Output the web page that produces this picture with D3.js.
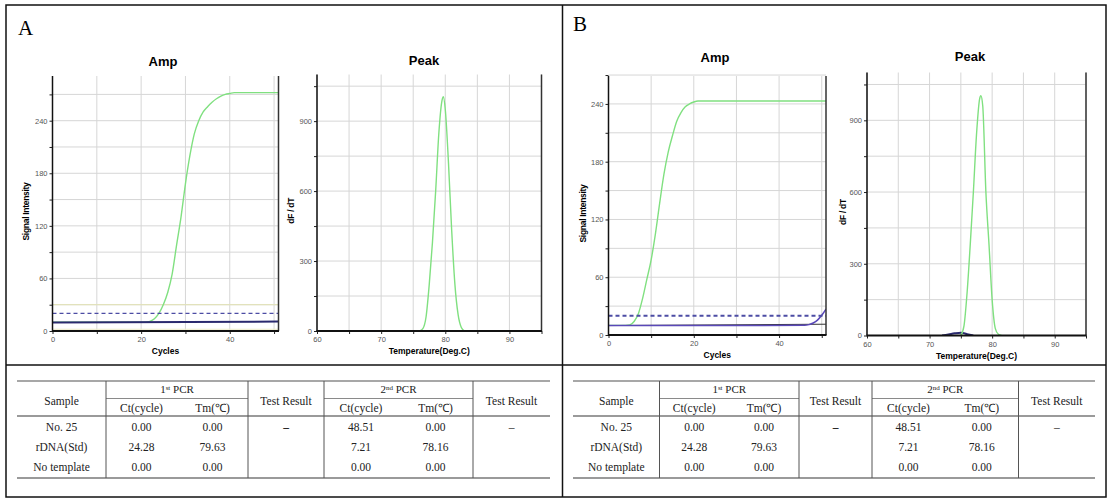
<!DOCTYPE html>
<html><head><meta charset="utf-8">
<script src="https://cdn.jsdelivr.net/npm/d3@7/dist/d3.min.js"></script>
<style>body{margin:0;background:#fff;} svg{display:block;}</style>
</head><body><svg id="c" width="1112" height="500"></svg>
<script>
// ---------------- DATA ----------------
const cycles = [0,1,2,3,4,5,6,7,8,9,10,11,12,13,14,15,16,17,18,19,20,21,22,23,24,25,26,27,28,29,30,31,32,33,34,35,36,37,38,39,40,41,42,43,44,45,46,47,48,49,50,51];
const ampA_green = [10,10,10,10,10,10,10,10,10,10, 10,10,10,10,10,10,10,10,10,10, 10,10,11,14,20,30,44,65,98,130, 168,200,225,240,250,256,261,265,268,270, 271,272,272,272,272,272,272,272,272,272, 272,272];
const ampA_baseCycles = [0,51];
const ampA_base = [9.6,10.8];
const ampA_threshold = 20;
const ampA_upper = 30;
const ampA_ntc = 2;

const ampB_green = [10,10,10,10,10,10.5,14,22,38,58, 78,105,137,167,190,207,222,231,237,240, 242,243,243,243,243,243,243,243,243,243, 243,243,243,243,243,243,243,243,243,243, 243,243,243,243,243,243,243,243,243,243, 243,243];
const ampB_purpleCycles = [0,46,47,48,49,50,51];
const ampB_purple = [9.8,10,10.8,12.5,15.5,20.5,27];
const ampB_blackCycles = [0,51];
const ampB_black = [9.8,11.2];
const ampB_threshold = 20;

const peakA_temp = [76,76.5,77,77.5,78,78.5,79,79.5,79.7,80,80.5,81,81.5,82,82.5,83];
const peakA_green = [0,10,60,200,380,600,850,990,1005,950,720,430,200,70,15,0];
const peakB_temp = [75,75.5,76,76.5,77,77.5,78,78.2,78.5,79,79.5,80,80.5,81,81.5];
const peakB_green = [0,40,180,380,600,840,990,1003,960,600,380,150,30,5,0];
const peakB_blueTemp = [72,73,74,75,75.5,76,77];
const peakB_blue = [0,4,9,12,10,5,0];

const ampXTicks = [0,10,20,30,40,50];
const ampXLabels = [0,20,40];
const ampYTicks = [0,30,60,90,120,150,180,210,240,270];
const ampYLabels = [0,60,120,180,240];
const peakXTicks = [60,65,70,75,80,85,90,95];
const peakXLabels = [60,70,80,90];
const peakYTicks = [0,150,300,450,600,750,900,1050];
const peakYLabels = [0,300,600,900];

const samples = ["No. 25","rDNA(Std)","No template"];
const firstCt = ["0.00","24.28","0.00"];
const firstTm = ["0.00","79.63","0.00"];
const firstResult = ["\u2013","",""];
const secondCt = ["48.51","7.21","0.00"];
const secondTm = ["0.00","78.16","0.00"];
const secondResult = ["\u2013","",""];

// ---------------- DRAW ----------------
const svg = d3.select("#c");
const SANS = "'Liberation Sans', Arial, sans-serif";
const SERIF = "'Liberation Serif', 'Times New Roman', serif";
const GREEN = "#80e080", NAVY = "#2a2a6e", DASH = "#4c4ca4";

function chart(cfg){
  const g = svg.append("g");
  const x = d3.scaleLinear().domain(cfg.xd).range([cfg.x0, cfg.x1]);
  const y = d3.scaleLinear().domain(cfg.yd).range([cfg.y1, cfg.y0]);
  // grid
  g.selectAll(".vg").data(cfg.xt).join("line")
    .attr("x1", d=>x(d)).attr("x2", d=>x(d)).attr("y1", cfg.y0).attr("y2", cfg.y1)
    .attr("stroke", "#d6d6d6").attr("stroke-width", 1);
  g.selectAll(".hg").data(cfg.yt.filter(v=>v>0)).join("line")
    .attr("x1", cfg.x0).attr("x2", cfg.x1).attr("y1", d=>y(d)).attr("y2", d=>y(d))
    .attr("stroke", "#d6d6d6").attr("stroke-width", 1);
  // series
  const clip = "clip" + Math.round(cfg.x0);
  svg.append("clipPath").attr("id", clip).append("rect")
    .attr("x", cfg.x0).attr("y", cfg.y0 - 2).attr("width", cfg.x1 - cfg.x0).attr("height", cfg.y1 - cfg.y0 + 2);
  const sg = g.append("g").attr("clip-path", `url(#${clip})`);
  cfg.series.forEach(s => {
    const pts = s.xs.map((v,i)=>[v, s.ys[i]]);
    const line = d3.line().x(d=>x(d[0])).y(d=>y(d[1])).curve(s.curve || d3.curveMonotoneX);
    sg.append("path").attr("d", line(pts)).attr("fill", "none")
      .attr("stroke", s.color).attr("stroke-width", s.w || 1.3)
      .attr("stroke-dasharray", s.dash || null);
  });
  // axes
  const ya = d3.axisLeft(y).tickValues(cfg.yt).tickSize(3).tickPadding(2)
    .tickFormat(d => cfg.yl.includes(d) ? d : "");
  const xa = d3.axisBottom(x).tickValues(cfg.xt).tickSize(3).tickPadding(3)
    .tickFormat(d => cfg.xl.includes(d) ? d : "");
  const yg = g.append("g").attr("transform", `translate(${cfg.x0},0)`).call(ya);
  const xg = g.append("g").attr("transform", `translate(0,${cfg.y1})`).call(xa);
  [yg, xg].forEach(a => {
    a.select(".domain").remove();
    a.selectAll("line").attr("stroke", "#222");
    a.selectAll("text").attr("fill", "#555").style("font-family", SANS).style("font-size", "7.5px");
  });
  // frame lines
  g.append("line").attr("x1", cfg.x0).attr("x2", cfg.x0).attr("y1", cfg.y0).attr("y2", cfg.y1)
    .attr("stroke", "#111").attr("stroke-width", 1.5);
  g.append("line").attr("x1", cfg.x1).attr("x2", cfg.x1).attr("y1", cfg.y0).attr("y2", cfg.y1)
    .attr("stroke", "#333").attr("stroke-width", 1.5);
  g.append("line").attr("x1", cfg.x0 - 0.5).attr("x2", cfg.x1 + 0.5).attr("y1", cfg.y1).attr("y2", cfg.y1)
    .attr("stroke", "#111").attr("stroke-width", 2);
  // titles
  g.append("text").attr("x", cfg.tx).attr("y", cfg.ty).attr("text-anchor", "middle")
    .style("font-family", SANS).style("font-weight", "bold").style("font-size", "13px").text(cfg.title);
  g.append("text").attr("x", (cfg.x0 + cfg.x1)/2 + (cfg.xlOff||0)).attr("y", cfg.y1 + 23).attr("text-anchor", "middle")
    .style("font-family", SANS).style("font-weight", "bold").style("font-size", "8.5px").text(cfg.xlabel);
  g.append("text").attr("transform", `translate(${cfg.ylx},${(cfg.y0 + cfg.y1)/2 + 8}) rotate(-90)`)
    .attr("text-anchor", "middle")
    .style("font-family", SANS).style("font-weight", "bold").style("font-size", "8.5px")
    .style("letter-spacing", "-0.3px").text(cfg.ylabel);
}

function ampCfg(o){
  return Object.assign({xd:[0,51], xt:ampXTicks, xl:ampXLabels, yt:ampYTicks, yl:ampYLabels,
    title:"Amp", xlabel:"Cycles", ylabel:"Signal Intensity"}, o);
}
function peakCfg(o){
  return Object.assign({xd:[60,95], yd:[0,1100], xt:peakXTicks, xl:peakXLabels, yt:peakYTicks, yl:peakYLabels,
    title:"Peak", xlabel:"Temperature(Deg.C)", ylabel:"dF / dT"}, o);
}

chart(ampCfg({x0:52.5, x1:278.5, y0:76, y1:331, yd:[0,291], tx:163, ty:66, ylx:29,
  series:[
    {xs:[0,51], ys:[ampA_upper, ampA_upper], color:"#e4e4b4", w:1, curve:d3.curveLinear},
    {xs:[0,51], ys:[ampA_ntc, ampA_ntc], color:"#ecebc8", w:1, curve:d3.curveLinear},
    {xs:cycles, ys:ampA_green, color:GREEN, w:1.4},
    {xs:ampA_baseCycles, ys:ampA_base, color:NAVY, w:2, curve:d3.curveLinear},
    {xs:[0,51], ys:[ampA_threshold, ampA_threshold], color:DASH, w:1.2, dash:"4,3", curve:d3.curveLinear}
  ]}));

chart(peakCfg({x0:317, x1:541.5, y0:74.5, y1:331, tx:424, ty:65, ylx:294,
  series:[
    {xs:peakA_temp, ys:peakA_green, color:GREEN, w:1.4}
  ]}));

chart(ampCfg({x0:608.5, x1:826, y0:76, y1:335, yd:[0,269], tx:715, ty:62, ylx:586,
  series:[
    {xs:cycles, ys:ampB_green, color:GREEN, w:1.4},
    {xs:ampB_blackCycles, ys:ampB_black, color:"#333", w:1, curve:d3.curveLinear},
    {xs:ampB_purpleCycles, ys:ampB_purple, color:"#5a48b8", w:1.5},
    {xs:[0,51], ys:[ampB_threshold, ampB_threshold], color:DASH, w:1.8, dash:"4,3", curve:d3.curveLinear}
  ]}));

chart(peakCfg({x0:867, x1:1086, y0:72.5, y1:335.5, tx:970, ty:61, ylx:846,
  series:[
    {xs:peakB_blueTemp, ys:peakB_blue, color:NAVY, w:2},
    {xs:peakB_temp, ys:peakB_green, color:GREEN, w:1.4}
  ]}));

// panel letters
svg.append("text").attr("x", 18).attr("y", 35).style("font-family", SERIF).style("font-size", "21px").text("A");
svg.append("text").attr("x", 573).attr("y", 31).style("font-family", SERIF).style("font-size", "21px").text("B");

// frame
svg.append("rect").attr("x", 6).attr("y", 5).attr("width", 1100).attr("height", 492)
  .attr("fill", "none").attr("stroke", "#111").attr("stroke-width", 1.5);
svg.append("line").attr("x1", 562.5).attr("x2", 562.5).attr("y1", 5).attr("y2", 497).attr("stroke", "#111").attr("stroke-width", 1.5);
svg.append("line").attr("x1", 6).attr("x2", 1106).attr("y1", 365).attr("y2", 365).attr("stroke", "#111").attr("stroke-width", 1.5);

// tables
function table(cols){
  const g = svg.append("g");
  const T = 381, S = 398.5, H = 416, B = 478;
  const rowY = [431, 451, 471];
  const L = cols[0], R = cols[cols.length-1];
  const hl = (x1,x2,yy,w,c) => g.append("line").attr("x1",x1).attr("x2",x2).attr("y1",yy).attr("y2",yy).attr("stroke",c).attr("stroke-width",w);
  hl(L,R,T,1.5,"#8a8a8a");
  hl(cols[1],cols[3],S,1,"#8a8a8a");
  hl(cols[4],cols[6],S,1,"#8a8a8a");
  hl(L,R,H,2,"#9a9a9a");
  hl(L,R,B,2,"#9a9a9a");
  [1,3,4,6].forEach(i => g.append("line").attr("x1",cols[i]).attr("x2",cols[i]).attr("y1",T).attr("y2",B)
    .attr("stroke","#555").attr("stroke-width",1));
  const mid = (a,b) => (cols[a]+cols[b])/2;
  const txt = (xx,yy,s) => g.append("text").attr("x",xx).attr("y",yy).attr("text-anchor","middle")
    .style("font-family",SERIF).style("font-size","11.5px").attr("fill","#222").text(s);
  txt(mid(0,1), 405, "Sample");
  txt(mid(3,4), 405, "Test Result");
  txt(mid(6,7), 405, "Test Result");
  [[1,3,"st"],[4,6,"nd"]].forEach(([a,b,sup],k) => {
    const t = g.append("text").attr("x", mid(a,b)).attr("y", 393).attr("text-anchor","middle")
      .style("font-family",SERIF).style("font-size","11px").attr("fill","#222");
    t.append("tspan").text(k===0 ? "1" : "2");
    t.append("tspan").attr("dy",-3.5).style("font-size","7px").text(sup);
    t.append("tspan").attr("dy",3.5).text(" PCR");
  });
  txt(mid(1,2), 412, "Ct(cycle)"); txt(mid(2,3), 412, "Tm(\u2103)");
  txt(mid(4,5), 412, "Ct(cycle)"); txt(mid(5,6), 412, "Tm(\u2103)");
  samples.forEach((s,i) => {
    txt(mid(0,1), rowY[i], s);
    txt(mid(1,2), rowY[i], firstCt[i]);
    txt(mid(2,3), rowY[i], firstTm[i]);
    txt(mid(3,4), rowY[i], firstResult[i]).style("font-weight","bold");
    txt(mid(4,5), rowY[i], secondCt[i]);
    txt(mid(5,6), rowY[i], secondTm[i]);
    txt(mid(6,7), rowY[i], secondResult[i]);
  });
}
table([17,106,177,248,324,398,473,550]);
table([573,659.5,729,799,872,945,1018.5,1095]);
</script>
</body></html>
